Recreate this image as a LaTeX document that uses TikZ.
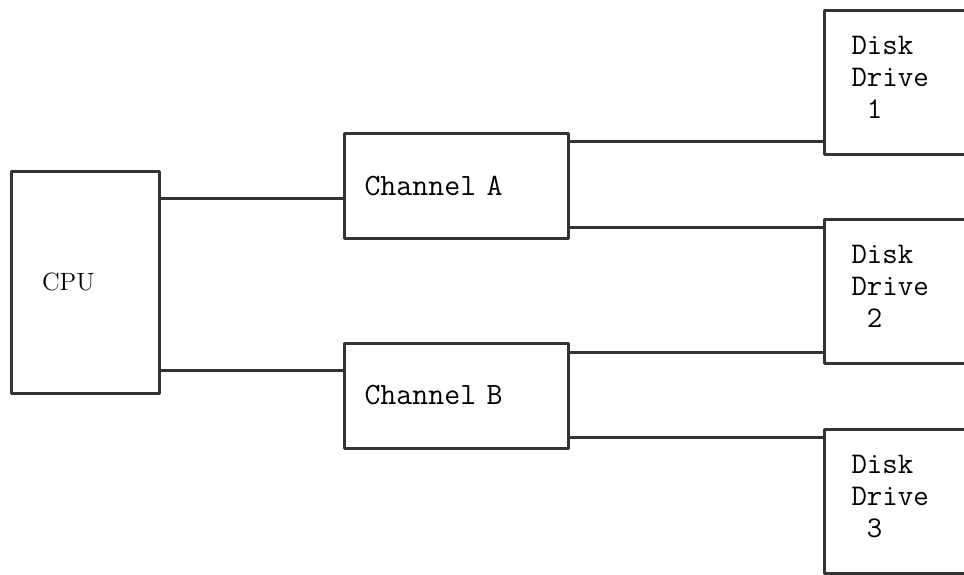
\documentclass[tikz,border=0pt]{standalone}
\usepackage{fontspec}
\usepackage{tikz}
\tikzset{
  blk/.style={rectangle, draw=black!80, line width=1.5pt, inner ysep=0pt, align=left},
  cpub/.style={blk, text width=43pt, inner xsep=15.5pt, minimum height=111pt,
    font=\fontsize{12.5}{14}\selectfont},
  chan/.style={blk, text width=92pt, inner xsep=10pt, minimum height=52.5pt,
    font=\ttfamily\fontsize{15.5}{17}\selectfont},
  drv/.style={blk, anchor=north west, text width=73pt, inner xsep=13.5pt,
    minimum height=72pt, font=\ttfamily\fontsize{15}{16}\selectfont,
    execute at end node={\rule[-5pt]{0pt}{0pt}}},
  wire/.style={draw=black!80, line width=1.5pt},
  every picture/.style={line cap=round, line join=round}
}

\begin{document}
\begin{tikzpicture}[x=0.5pt, y=-0.5pt]
  \useasboundingbox (0,0) rectangle (964,574);
  \clip (0,0) rectangle (964,574);
  % processor and channels
  \node[cpub] (cpu) at (85,282) {CPU};
  \node[chan] (chA) at (456.5,185.5) {Channel A};
  \node[chan] (chB) at (456.5,395.5) {Channel B};
  % drives, cut off at the right
  \node[drv] (d1) at (823,9) {Disk\\Drive\\\phantom{D}1};
  \node[drv] (d2) at (823,218) {Disk\\Drive\\\phantom{D}2};
  \node[drv] (d3) at (823,428) {Disk\\Drive\\\phantom{D}3};
  % wires
  \draw[wire] ([yshift=42pt]cpu.east) -- ([yshift=42pt]cpu.east -| chA.west);
  \draw[wire] ([yshift=-44pt]cpu.east) -- ([yshift=-44pt]cpu.east -| chB.west);
  \draw[wire] ([yshift=22.25pt]chA.east) -- ([yshift=22.25pt]chA.east -| d1.west);
  \draw[wire] ([yshift=-20.75pt]chA.east) -- ([yshift=-20.75pt]chA.east -| d2.west);
  \draw[wire] ([yshift=21.75pt]chB.east) -- ([yshift=21.75pt]chB.east -| d2.west);
  \draw[wire] ([yshift=-20.75pt]chB.east) -- ([yshift=-20.75pt]chB.east -| d3.west);
\end{tikzpicture}
\end{document}
